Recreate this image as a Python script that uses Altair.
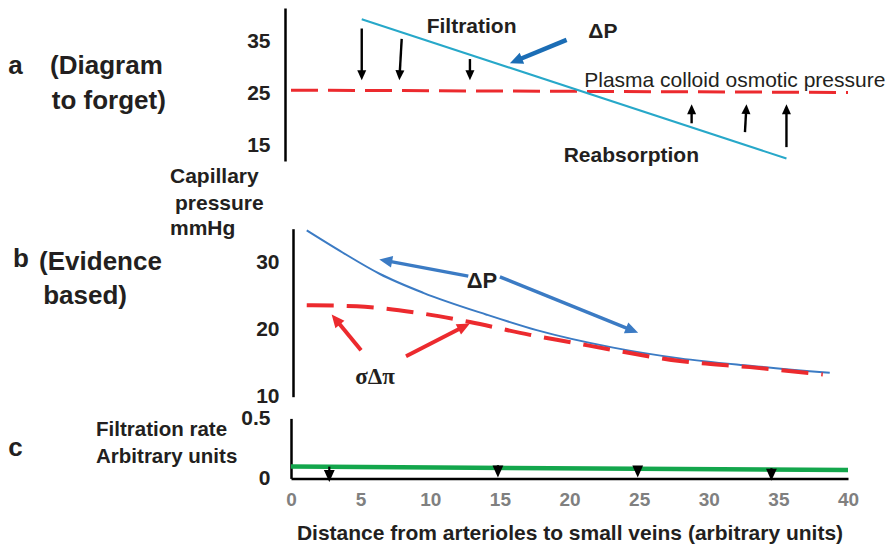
import math
import altair as alt
import pandas as pd

FONT = "Liberation Sans"
SERIF = "Liberation Serif"
INK = "#231f20"
RED = "#ec2a2e"
CYAN = "#27a8c9"
DARKBLUE = "#1b6db5"
BLUE = "#3b7bc4"
GREEN = "#13a64c"

# ---------------- shared x ----------------
X_DOMAIN = [0, 40]
X_TICKS = [0, 5, 10, 15, 20, 25, 30, 35, 40]
PLOT_W = 557

# ---------------- panel a ----------------
A_DOMAIN = [12.02, 41.56]
A_TICKS = [15, 25, 35]
A_H = 153
a_dp_x = [5.08, 35.58]
a_dp_y = [39.4, 12.5]
a_colloid_x = [0, 40]
a_colloid_y = [25.7, 25.25]
a_filt_tail_x = [5.08, 7.95, 12.85]
a_filt_tail_y = [37.6, 35.6, 31.7]
a_filt_tip_x = [5.08, 7.78, 12.85]
a_filt_tip_y = [27.6, 27.6, 27.6]
a_reab_tail_x = [28.77, 32.6, 35.58]
a_reab_tail_y = [19.3, 17.6, 14.7]
a_reab_tip_x = [28.77, 32.71, 35.58]
a_reab_tip_y = [23.0, 23.0, 23.0]
a_call_tail_x = [19.79]
a_call_tail_y = [35.4]
a_call_tip_x = [15.72]
a_call_tip_y = [30.9]

# ---------------- panel b ----------------
B_DOMAIN = [10, 41.83]     # axis line drawn only over 10..35
B_AXIS_PX = 168
B_TICKS = [10, 20, 30]
B_H = 214
b_dp_x = [1.13, 3.7, 6.39, 9.50, 14.05, 17.64, 23.14, 27.93, 32.95, 38.69]
b_dp_y = [34.73, 31.45, 28.25, 25.45, 22.2, 19.9, 17.3, 15.7, 14.6, 13.56]
b_pi_x = [1.13, 4.72, 9.02, 12.85, 17.16, 20.24, 23.12, 27.93, 32.95, 38.19]
b_pi_y = [23.62, 23.45, 22.5, 21.1, 19.2, 18.05, 16.95, 15.3, 14.4, 13.30]
b_blue_tail_x = [12.73, 15.0]
b_blue_tail_y = [27.93, 27.84]
b_blue_tip_x = [6.34, 24.93]
b_blue_tip_y = [30.42, 19.51]
b_red_tail_x = [5.03, 8.26]
b_red_tail_y = [16.92, 16.03]
b_red_tip_x = [2.92, 12.85]
b_red_tip_y = [22.23, 20.89]

# ---------------- panel c ----------------
C_DOMAIN = [0, 0.5]
C_TICKS = [0, 0.5]
C_H = 60
c_rate_x = [0, 40]
c_rate_y = [0.0995, 0.069]
c_arrow_x = [2.75, 14.86, 24.9, 34.5]
c_arrow_tail_y = [0.098, 0.11, 0.1, 0.085]
c_arrow_tip_y = [-0.03, 0.007, 0.007, -0.02]

X_TITLE = "Distance from arterioles to small veins (arbitrary units)"

ARROW_PATH = "M0,0L0.45,1L-0.45,1Z"


class Panel:
    def __init__(self, domain, h, xaxis, yaxis):
        self.domain, self.h, self.xaxis, self.yaxis = domain, h, xaxis, yaxis

    def x(self, field):
        return alt.X(f"{field}:Q", scale=alt.Scale(domain=X_DOMAIN, nice=False, zero=False),
                     axis=self.xaxis)

    def y(self, field):
        return alt.Y(f"{field}:Q", scale=alt.Scale(domain=self.domain, nice=False, zero=False),
                     axis=self.yaxis)

    def line(self, xv, yv, color, width, dash=None, interp="linear"):
        df = pd.DataFrame({"x": xv, "y": yv})
        kw = dict(color=color, strokeWidth=width, interpolate=interp, strokeCap="butt")
        if dash:
            kw["strokeDash"] = dash
        return alt.Chart(df).mark_line(**kw).encode(x=self.x("x"), y=self.y("y"))

    def arrows(self, tx, ty, hx, hy, color, width, head):
        kx = PLOT_W / (X_DOMAIN[1] - X_DOMAIN[0])
        ky = self.h / (self.domain[1] - self.domain[0])
        rows = []
        for x1, y1, x2, y2 in zip(tx, ty, hx, hy):
            dxp = (x2 - x1) * kx
            dyp = -(y2 - y1) * ky
            L = math.hypot(dxp, dyp)
            ux, uy = dxp / L, dyp / L
            ang = math.degrees(math.atan2(ux, -uy)) % 360
            back = head * 0.6
            rows.append(dict(x=x1, y=y1, x2=x2 - ux * back / kx, y2=y2 + uy * back / ky,
                             hx=x2, hy=y2, angle=ang))
        df = pd.DataFrame(rows)
        base = alt.Chart(df)
        rule = base.mark_rule(color=color, strokeWidth=width, strokeCap="butt").encode(
            x=self.x("x"), y=self.y("y"), x2="x2:Q", y2="y2:Q")
        heads = base.mark_point(shape=ARROW_PATH, filled=True, color=color, opacity=1,
                                size=(2 * head) ** 2, strokeWidth=0).encode(
            x=self.x("hx"), y=self.y("hy"), angle=alt.Angle("angle:Q", scale=None))
        return rule + heads

    def texts(self, labels, xv, yv, size, weight="bold", align="left", font=FONT, color=INK):
        df = pd.DataFrame({"t": labels, "x": xv, "y": yv})
        return alt.Chart(df).mark_text(font=font, fontSize=size, fontWeight=weight, align=align,
                                       baseline="middle", color=color).encode(
            x=self.x("x"), y=self.y("y"), text="t:N")


def yaxis(values, pad, offset, fmt=None, dash=None):
    kw = dict(values=values, title=None, ticks=False, grid=False, domain=True,
              domainColor="black", domainWidth=2.5, labelPadding=pad, offset=offset,
              labelFont=FONT, labelFontSize=21, labelFontWeight="bold", labelColor=INK)
    if fmt:
        kw["format"] = fmt
    if dash:
        kw["domainDash"] = dash
    return alt.Axis(**kw)


# ---------------- panel a ----------------
A = Panel(A_DOMAIN, A_H, None, yaxis(A_TICKS, 15, 6))
pa = alt.layer(
    A.line(a_colloid_x, a_colloid_y, RED, 3, dash=[27, 10]),
    A.line(a_dp_x, a_dp_y, CYAN, 2),
    A.arrows(a_filt_tail_x, a_filt_tail_y, a_filt_tip_x, a_filt_tip_y, "black", 2.4, 10),
    A.arrows(a_reab_tail_x, a_reab_tail_y, a_reab_tip_x, a_reab_tip_y, "black", 2.4, 10),
    A.arrows(a_call_tail_x, a_call_tail_y, a_call_tip_x, a_call_tip_y, DARKBLUE, 4.5, 13),
    A.texts(["a"], [-20.3], [30.4], 26),
    A.texts(["(Diagram", "to forget)"], [-17.3, -17.18], [30.4, 23.63], 26),
    A.texts(["Capillary", "pressure", "mmHg"], [-8.69, -8.33, -8.69], [8.87, 3.65, -1.19], 21),
    A.texts(["Filtration", "ΔP", "Reabsorption"], [12.97, 22.4, 24.44], [37.82, 36.9, 12.93],
            21, align="center"),
    A.texts(["Plasma colloid osmotic pressure"], [31.87], [27.5], 21, weight="normal",
            align="center"),
).properties(width=PLOT_W, height=A_H)

# ---------------- panel b ----------------
B = Panel(B_DOMAIN, B_H, None, yaxis(B_TICKS, 14, -2, dash=[B_AXIS_PX, 2000]))
pb = alt.layer(
    B.line(b_dp_x, b_dp_y, BLUE, 2, interp="monotone"),
    B.line(b_pi_x, b_pi_y, RED, 4, dash=[27, 13], interp="monotone"),
    B.arrows(b_blue_tail_x, b_blue_tail_y, b_blue_tip_x, b_blue_tip_y, BLUE, 3.5, 13),
    B.arrows(b_red_tail_x, b_red_tail_y, b_red_tip_x, b_red_tip_y, RED, 4, 13),
    B.texts(["b"], [-19.96], [30.42], 26),
    B.texts(["(Evidence", "based)"], [-18.09, -17.8], [29.97, 24.91], 26),
    B.texts(["ΔP"], [13.71], [27.19], 22, align="center"),
    B.texts(["σΔπ"], [6.03], [12.86], 23, align="center", font=SERIF),
).properties(width=PLOT_W, height=B_H)

# ---------------- panel c ----------------
xaxis_c = alt.Axis(values=X_TICKS, format="d", title=X_TITLE, ticks=False, grid=False,
                   domain=True, domainColor="black", domainWidth=2.5, labelFlush=False,
                   labelPadding=12, labelFont=FONT, labelFontSize=19, labelFontWeight="bold",
                   labelColor="#808080", titleFont=FONT, titleFontSize=21, titleFontWeight="bold",
                   titleColor=INK, titlePadding=13)
C = Panel(C_DOMAIN, C_H, xaxis_c, yaxis(C_TICKS, 21, 0, fmt="~g"))
pc = alt.layer(
    C.line(c_rate_x, c_rate_y, GREEN, 4.5),
    C.arrows(c_arrow_x, c_arrow_tail_y, c_arrow_x, c_arrow_tip_y, "black", 2.2, 12),
    C.texts(["c"], [-20.3], [0.257], 26),
    C.texts(["Filtration rate", "Arbitrary units"], [-14.0, -14.0], [0.403, 0.182], 20.5),
).properties(width=PLOT_W, height=C_H)

chart = alt.vconcat(pa, pb, pc, spacing=21.7, bounds="flush").properties(
    padding={"left": 0, "top": 0, "right": 2, "bottom": 2}
).configure_view(stroke=None)

chart.save("out.html", embed_options={"renderer": "svg", "actions": False})
